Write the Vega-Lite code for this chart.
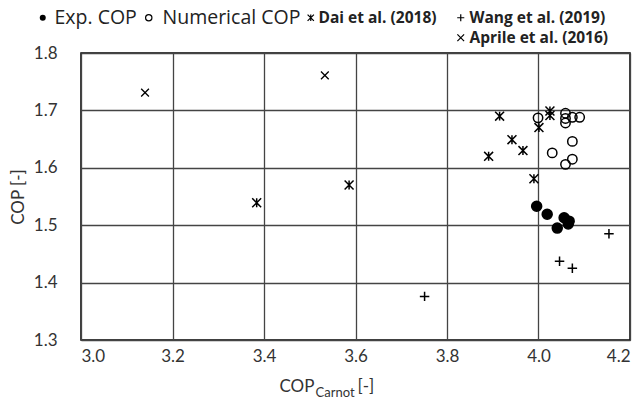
{
  "$schema": "https://vega.github.io/schema/vega-lite/v6.json",
  "width": 549,
  "height": 287,
  "autosize": {"type": "none"},
  "padding": {"left": 81, "top": 53, "right": 14, "bottom": 63},
  "background": "white",
  "config": {
    "font": "Lato",
    "view": {"stroke": "black", "strokeWidth": 1.5},
    "axis": {"labelFont": "Lato", "titleFont": "Lato", "labelColor": "#333", "titleColor": "#333", "titleFontWeight": "normal"},
    "legend": {"labelFont": "Open Sans", "title": null, "orient": "none", "direction": "horizontal", "symbolStrokeColor": "black", "symbolStrokeWidth": 1.2, "labelColor": "#222", "labelLimit": 300}
  },
  "data": {
    "values": [
      {"x": 3.996, "y": 1.533, "series": "Exp. COP"},
      {"x": 4.019, "y": 1.519, "series": "Exp. COP"},
      {"x": 4.056, "y": 1.513, "series": "Exp. COP"},
      {"x": 4.067, "y": 1.507, "series": "Exp. COP"},
      {"x": 4.065, "y": 1.502, "series": "Exp. COP"},
      {"x": 4.041, "y": 1.495, "series": "Exp. COP"},
      {"x": 3.999, "y": 1.687, "series": "Numerical COP"},
      {"x": 4.030, "y": 1.626, "series": "Numerical COP"},
      {"x": 4.059, "y": 1.695, "series": "Numerical COP"},
      {"x": 4.059, "y": 1.686, "series": "Numerical COP"},
      {"x": 4.059, "y": 1.678, "series": "Numerical COP"},
      {"x": 4.074, "y": 1.688, "series": "Numerical COP"},
      {"x": 4.090, "y": 1.688, "series": "Numerical COP"},
      {"x": 4.074, "y": 1.646, "series": "Numerical COP"},
      {"x": 4.074, "y": 1.615, "series": "Numerical COP"},
      {"x": 4.059, "y": 1.606, "series": "Numerical COP"},
      {"x": 3.384, "y": 1.539, "series": "Dai et al. (2018)"},
      {"x": 3.586, "y": 1.570, "series": "Dai et al. (2018)"},
      {"x": 3.891, "y": 1.620, "series": "Dai et al. (2018)"},
      {"x": 3.915, "y": 1.690, "series": "Dai et al. (2018)"},
      {"x": 3.942, "y": 1.649, "series": "Dai et al. (2018)"},
      {"x": 3.966, "y": 1.630, "series": "Dai et al. (2018)"},
      {"x": 3.990, "y": 1.581, "series": "Dai et al. (2018)"},
      {"x": 4.001, "y": 1.670, "series": "Dai et al. (2018)"},
      {"x": 4.025, "y": 1.699, "series": "Dai et al. (2018)"},
      {"x": 4.025, "y": 1.691, "series": "Dai et al. (2018)"},
      {"x": 3.751, "y": 1.376, "series": "Wang et al. (2019)"},
      {"x": 4.046, "y": 1.437, "series": "Wang et al. (2019)"},
      {"x": 4.074, "y": 1.425, "series": "Wang et al. (2019)"},
      {"x": 4.154, "y": 1.485, "series": "Wang et al. (2019)"},
      {"x": 3.140, "y": 1.731, "series": "Aprile et al. (2016)"},
      {"x": 3.533, "y": 1.761, "series": "Aprile et al. (2016)"}
    ]
  },
  "layer": [
    {
      "transform": [{"filter": "datum.series === 'Exp. COP'"}],
      "mark": {"type": "point", "filled": true, "fill": "black", "stroke": "black", "strokeWidth": 1.5, "opacity": 1},
      "encoding": {
        "x": {"field": "x", "type": "quantitative",
          "scale": {"domain": [3.0, 4.2], "nice": false, "zero": false},
          "axis": {"orient": "bottom", "values": [3.0, 3.2, 3.4, 3.6, 3.8, 4.0, 4.2], "format": ".1f", "labelFontSize": 17, "labelPadding": 8, "ticks": false, "domain": false, "grid": true, "gridColor": "#444", "gridWidth": 1.3, "gridOpacity": 1,
            "title": "COP", "titleFontSize": 17, "titleX": 198, "titleY": 51, "titleAlign": "left", "titleBaseline": "alphabetic", "titleAnchor": "start"}},
        "y": {"field": "y", "type": "quantitative",
          "scale": {"domain": [1.3, 1.8], "nice": false, "zero": false},
          "axis": {"orient": "left", "values": [1.3, 1.4, 1.5, 1.6, 1.7, 1.8], "format": ".1f", "labelFontSize": 17, "labelPadding": 24, "ticks": false, "domain": false, "grid": true, "gridColor": "#444", "gridWidth": 1.3, "gridOpacity": 1,
            "title": "COP [-]", "titleFontSize": 17, "titlePadding": 6}},
        "shape": {"field": "series", "type": "nominal",
          "scale": {"domain": ["Exp. COP"], "range": ["circle"]},
          "legend": {"legendX": -48, "legendY": -45, "labelFontSize": 19.5, "symbolSize": 36, "symbolFillColor": "black", "labelOffset": 2}},
        "size": {"value": 100}
      }
    },
    {
      "transform": [{"filter": "datum.series === 'Numerical COP'"}],
      "mark": {"type": "point", "filled": false, "stroke": "black", "strokeWidth": 1.5, "opacity": 1},
      "encoding": {
        "x": {"field": "x", "type": "quantitative", "scale": {"domain": [3.0, 4.2], "nice": false, "zero": false}, "axis": null},
        "y": {"field": "y", "type": "quantitative", "scale": {"domain": [1.3, 1.8], "nice": false, "zero": false}, "axis": null},
        "shape": {"field": "series", "type": "nominal",
          "scale": {"domain": ["Numerical COP"], "range": ["M1,0A1,1 0 1,1 -1,0A1,1 0 1,1 1,0Z"]},
          "legend": {"legendX": 58, "legendY": -45, "labelFontSize": 19.5, "symbolSize": 40, "labelOffset": 4}},
        "size": {"value": 88}
      }
    },
    {
      "transform": [{"filter": "datum.series === 'Dai et al. (2018)'"}],
      "mark": {"type": "point", "filled": false, "stroke": "black", "strokeWidth": 1.5, "opacity": 1},
      "encoding": {
        "x": {"field": "x", "type": "quantitative",
          "scale": {"domain": [3.0, 4.2], "nice": false, "zero": false},
          "axis": {"orient": "bottom", "labels": false, "ticks": false, "domain": false, "grid": false,
            "title": "Carnot", "titleFontSize": 13, "titleX": 234, "titleY": 56, "titleAlign": "left", "titleBaseline": "alphabetic", "titleAnchor": "start"}},
        "y": {"field": "y", "type": "quantitative", "scale": {"domain": [1.3, 1.8], "nice": false, "zero": false}, "axis": null},
        "shape": {"field": "series", "type": "nominal",
          "scale": {"domain": ["Dai et al. (2018)"], "range": ["M-1,-1L1,1M-1,1L1,-1M0,-1L0,1"]},
          "legend": {"legendX": 222, "legendY": -43, "labelFontSize": 15.5, "labelFontWeight": "bold", "symbolSize": 40, "labelOffset": 0}},
        "size": {"value": 80}
      }
    },
    {
      "transform": [{"filter": "datum.series === 'Wang et al. (2019)'"}],
      "mark": {"type": "point", "filled": false, "stroke": "black", "strokeWidth": 1.5, "opacity": 1},
      "encoding": {
        "x": {"field": "x", "type": "quantitative",
          "scale": {"domain": [3.0, 4.2], "nice": false, "zero": false},
          "axis": {"orient": "bottom", "labels": false, "ticks": false, "domain": false, "grid": false,
            "title": "[-]", "titleFontSize": 17, "titleX": 276, "titleY": 51, "titleAlign": "left", "titleBaseline": "alphabetic", "titleAnchor": "start"}},
        "y": {"field": "y", "type": "quantitative", "scale": {"domain": [1.3, 1.8], "nice": false, "zero": false}, "axis": null},
        "shape": {"field": "series", "type": "nominal",
          "scale": {"domain": ["Wang et al. (2019)"], "range": ["M-1,0L1,0M0,-1L0,1"]},
          "legend": {"legendX": 372, "legendY": -43, "labelFontSize": 15.5, "labelFontWeight": "bold", "symbolSize": 50, "labelOffset": 1}},
        "size": {"value": 90}
      }
    },
    {
      "transform": [{"filter": "datum.series === 'Aprile et al. (2016)'"}],
      "mark": {"type": "point", "filled": false, "stroke": "black", "strokeWidth": 1.3, "opacity": 1},
      "encoding": {
        "x": {"field": "x", "type": "quantitative", "scale": {"domain": [3.0, 4.2], "nice": false, "zero": false}, "axis": null},
        "y": {"field": "y", "type": "quantitative", "scale": {"domain": [1.3, 1.8], "nice": false, "zero": false}, "axis": null},
        "shape": {"field": "series", "type": "nominal",
          "scale": {"domain": ["Aprile et al. (2016)"], "range": ["M-1,-1L1,1M-1,1L1,-1"]},
          "legend": {"legendX": 372, "legendY": -23, "labelFontSize": 15.5, "labelFontWeight": "bold", "symbolSize": 45, "labelOffset": 1}},
        "size": {"value": 60}
      }
    }
  ],
  "resolve": {
    "scale": {"shape": "independent"},
    "axis": {"x": "independent", "y": "independent"},
    "legend": {"shape": "independent"}
  }
}
